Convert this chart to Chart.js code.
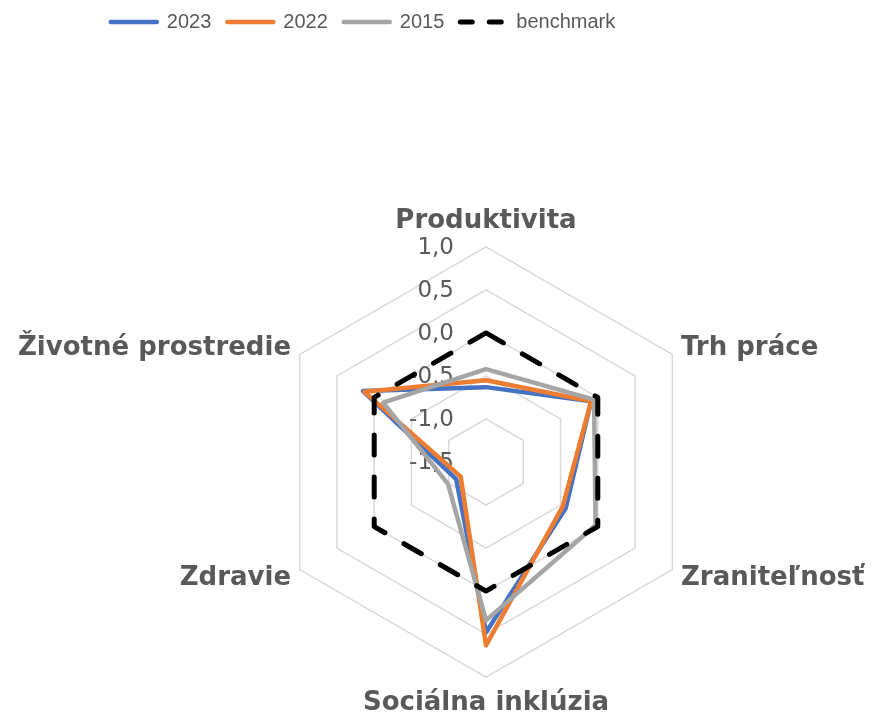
<!DOCTYPE html>
<html>
<head>
<meta charset="utf-8">
<script src="https://cdn.jsdelivr.net/npm/chart.js@4"></script>
<style>
  html, body { margin: 0; padding: 0; background: #fff; }
  #page { width: 873px; height: 718px; position: relative; overflow: hidden; }
  /* plátno je širšie/vyššie než okno, aby sa graf rozložil ako v Exceli */
  #wrap { position: absolute; left: -33px; top: 0; width: 936px; height: 784px; }
</style>
</head>
<body>
<div id="page"><div id="wrap"><canvas id="radar"></canvas></div></div>
<script>
const categories = ['Produktivita', 'Trh práce', 'Zraniteľnosť', 'Sociálna inklúzia', 'Zdravie', 'Životné prostredie'];
const seriesNames = ['2023', '2022', '2015', 'benchmark'];
const v2023 = [-0.63, -0.09, -0.43, 0.48, -1.10, 0.15];
const v2022 = [-0.55, -0.09, -0.47, 0.63, -1.16, 0.13];
const v2015 = [-0.42, -0.05, -0.03, 0.34, -0.99, -0.12];
const benchmark = [0, 0, 0, 0, 0, 0];
const tickValues = [-1.5, -1.0, -0.5, 0.0, 0.5, 1.0];

const textGrey = '#595959';

// Popisky osi (1,0 / 0,5 ...) vľavo od zvislej osi, pod čiarami.
const tickLabels = {
  id: 'tickLabels',
  beforeDatasetsDraw(chart) {
    const r = chart.scales.r;
    const ctx = chart.ctx;
    ctx.save();
    ctx.font = '23px "DejaVu Sans"';
    ctx.fillStyle = textGrey;
    ctx.textAlign = 'right';
    ctx.textBaseline = 'middle';
    tickValues.forEach(v => {
      const y = r.yCenter - r.getDistanceFromCenterForValue(v);
      ctx.fillText(v.toFixed(1).replace('.', ','), r.xCenter - 32, y + 1);
    });
    ctx.restore();
  }
};

// Legenda hore vľavo ako v Exceli.
const legendShift = {
  id: 'legendShift',
  afterLayout(chart) {
    const l = chart.legend;
    l.left -= 72; l.right -= 72;
    l.top -= 99; l.bottom -= 99;
  }
};

function ds(label, data, color, width, order, dash) {
  return {
    label, data, order,
    borderColor: color, backgroundColor: color,
    borderWidth: width, borderDash: dash || [],
    borderCapStyle: dash ? 'round' : 'butt', borderJoinStyle: 'round',
    pointRadius: 0, pointHoverRadius: 0, fill: false, tension: 0,
  };
}

// bočné popisky sedia v Exceli priamo pri vrchole
const labelLineHeight = [1.2, 0.1, 0.3, 1.2, 0.3, 0.1];

new Chart(document.getElementById('radar'), {
  type: 'radar',
  data: {
    labels: categories,
    datasets: [
      ds(seriesNames[0], v2023, '#4472C4', 4.5, 3),
      ds(seriesNames[1], v2022, '#ED7D31', 4.5, 2),
      ds(seriesNames[2], v2015, '#A5A5A5', 4.5, 1),
      ds(seriesNames[3], benchmark, '#000000', 5, 0, [20, 22]),
    ],
  },
  options: {
    responsive: true,
    maintainAspectRatio: false,
    animation: false,
    devicePixelRatio: 1,
    layout: { padding: { top: 95 } },
    plugins: {
      tooltip: { enabled: false },
      legend: {
        position: 'top',
        labels: {
          font: { family: '"Liberation Sans"', size: 20 },
          color: textGrey,
          usePointStyle: true,
          pointStyleWidth: 46,
          padding: 16,
          generateLabels: (chart) => chart.data.datasets.map((d, i) => ({
            text: d.label,
            strokeStyle: d.borderColor,
            fillStyle: d.borderColor,
            fontColor: textGrey,
            lineWidth: d.borderWidth,
            lineDash: i === 3 ? [12, 17] : [],
            lineCap: 'round',
            pointStyle: 'line',
            hidden: false,
            datasetIndex: i,
          })),
        },
      },
    },
    scales: {
      r: {
        min: -1.5,
        max: 1.0,
        ticks: { stepSize: 0.5, display: false },
        grid: { color: '#d9d9d9', lineWidth: 1.5, circular: false },
        angleLines: { display: false },
        pointLabels: {
          padding: 10,
          color: textGrey,
          font: (c) => ({ family: '"DejaVu Sans"', size: 26, weight: 'bold', lineHeight: labelLineHeight[c.index] }),
        },
      },
    },
  },
  plugins: [tickLabels, legendShift],
});
</script>
</body>
</html>
